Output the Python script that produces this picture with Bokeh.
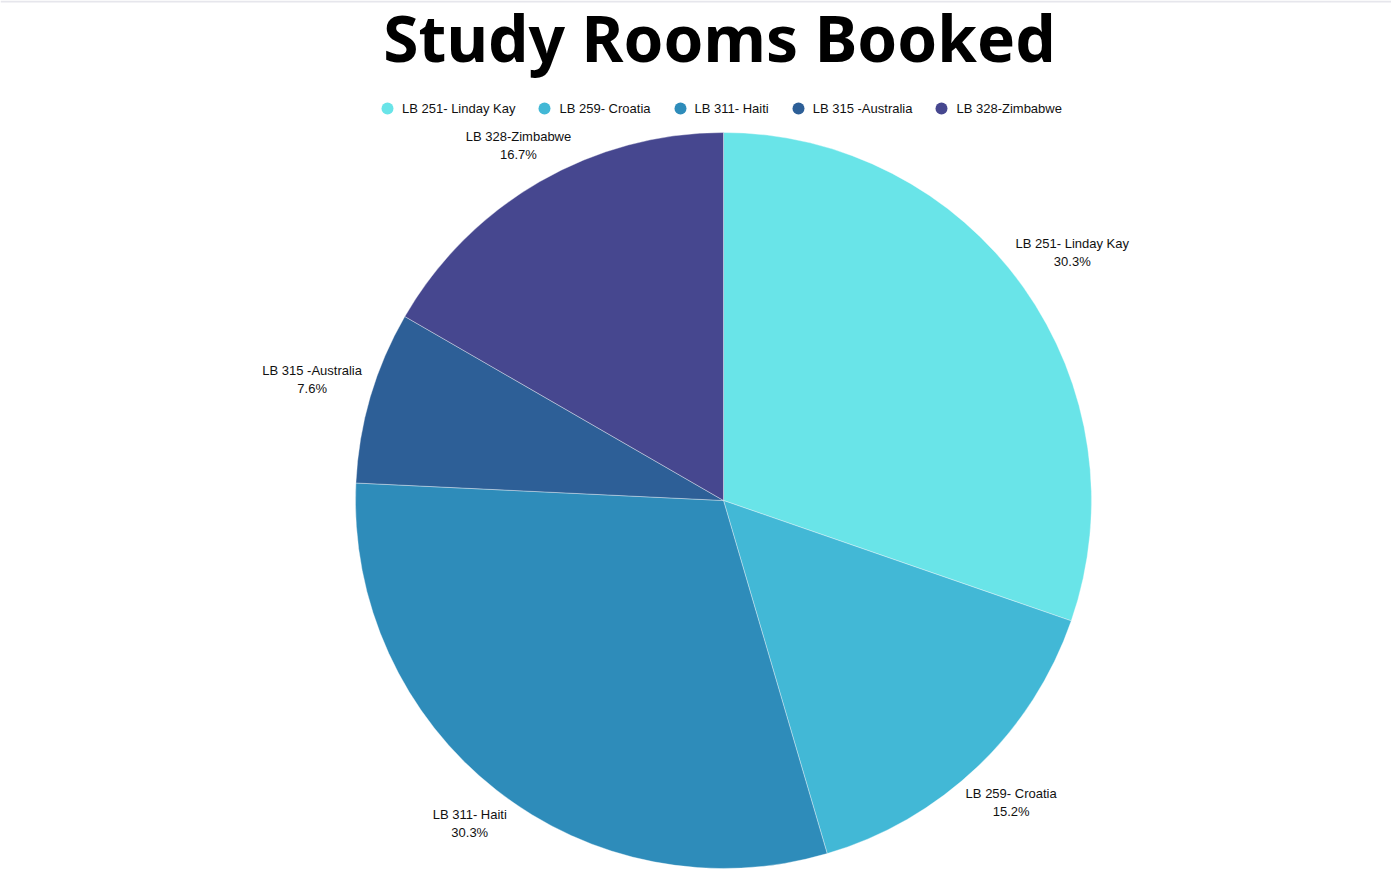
import math
from bokeh.plotting import figure
from bokeh.models import ColumnDataSource, Range1d, Legend, LegendItem, Span
from bokeh.core.properties import value
from bokeh.embed import file_html
from bokeh.resources import INLINE

rooms = ["LB 251- Linday Kay", "LB 259- Croatia", "LB 311- Haiti", "LB 315 -Australia", "LB 328-Zimbabwe"]
bookings = [20, 10, 20, 5, 11]
colors = ["#69E4E8", "#42B8D6", "#2E8CBA", "#2D5F97", "#46478F"]

W, H = 1391, 880
CX, CY, R = 723, 380, 368
GAP = 5            # gap between pie edge and nearest edge of label box
CHAR_W = 6.3       # approx. label char width at 13px
HALF_H = 15.5      # half height of the two-line label box

total = sum(bookings)
starts, ends, lx, ly, pct = [], [], [], [], []
cum = 0
for name, v in zip(rooms, bookings):
    a0 = math.pi / 2 - 2 * math.pi * cum / total
    a1 = math.pi / 2 - 2 * math.pi * (cum + v) / total
    starts.append(a1)
    ends.append(a0)
    mid = (a0 + a1) / 2
    c, s = math.cos(mid), math.sin(mid)
    hw = len(name) * CHAR_W / 2
    d = R + GAP + hw * abs(c) + HALF_H * abs(s)
    lx.append(CX + d * c)
    ly.append(CY + d * s)
    pct.append(f"{100 * v / total:.1f}%")
    cum += v

src = ColumnDataSource(dict(room=rooms, val=bookings, color=colors, start=starts, end=ends,
                            lx=lx, ly=ly, pct=pct,
                            nx=[float("nan")] * len(rooms), ny=[float("nan")] * len(rooms)))

p = figure(width=W, height=H, x_range=Range1d(0, W), y_range=Range1d(0, H),
           output_backend="svg", toolbar_location=None, min_border=0)
p.axis.visible = False
p.grid.visible = False
p.outline_line_color = None
p.background_fill_color = "white"
p.border_fill_color = "white"

p.wedge(x=CX, y=CY, radius=R, start_angle="start", end_angle="end", fill_color="color",
        line_color="white", line_width=0.6, line_alpha=0.6, source=src)

p.text(x="lx", y="ly", text="room", source=src, text_align="center", text_baseline="middle",
       text_font=value("Liberation Sans"), text_font_size="13px", text_color="#111111",
       y_offset=-9)
p.text(x="lx", y="ly", text="pct", source=src, text_align="center", text_baseline="middle",
       text_font=value("Liberation Sans"), text_font_size="13px", text_color="#111111",
       y_offset=9)

p.text(x=[CX - 4], y=[H - 37], text=["Study Rooms Booked"], text_align="center",
       text_baseline="middle", text_font=value("Noto Sans"), text_font_style="bold",
       text_font_size="64px", text_color="black", text_line_height=1.0)

leg_r = p.scatter(x="nx", y="ny", marker="circle", size=12, fill_color="color",
                  line_color=None, source=src)
items = [LegendItem(label=rooms[i], renderers=[leg_r], index=i) for i in range(len(rooms))]
legend = Legend(items=items, orientation="horizontal", location=(372, 757),
                border_line_color=None, background_fill_alpha=0,
                label_text_font="Liberation Sans", label_text_font_size="13px",
                label_text_color="#111111", glyph_width=30, glyph_height=30,
                label_standoff=0, spacing=14, padding=0, margin=0,
                label_height=14)
p.add_layout(legend, "center")

p.add_layout(Span(location=H - 1, dimension="width", line_color="#e6e6ec", line_width=2))

open("out.html", "w").write(file_html(p, INLINE))
